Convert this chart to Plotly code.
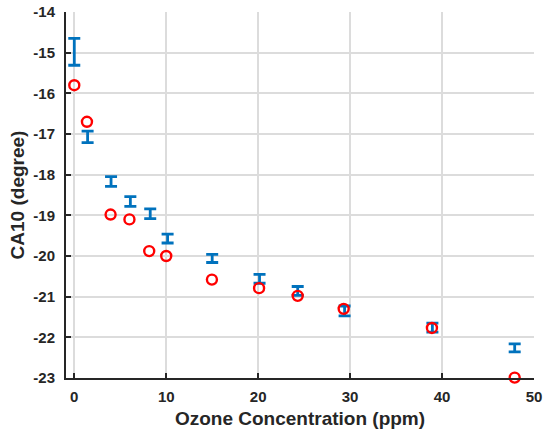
import plotly.graph_objects as go

# Error-bar series (blue)
bar_x = [0.0, 1.45, 4.0, 6.1, 8.26, 10.15, 15.0, 20.15, 24.3, 29.4, 38.95, 47.9]
bar_y = [-14.98, -17.07, -18.17, -18.66, -18.96, -19.57, -20.06, -20.56, -20.86, -21.35, -21.76, -22.26]
bar_err = [0.33, 0.14, 0.12, 0.12, 0.12, 0.11, 0.10, 0.11, 0.11, 0.12, 0.11, 0.10]

# Circle series (red)
pt_x = [0.0, 1.38, 3.95, 6.0, 8.15, 10.0, 14.97, 20.1, 24.3, 29.3, 38.9, 47.9]
pt_y = [-15.80, -16.70, -18.98, -19.10, -19.88, -20.00, -20.58, -20.79, -20.98, -21.30, -21.77, -22.99]

x_ticks = [0, 10, 20, 30, 40, 50]
y_ticks = [-23, -22, -21, -20, -19, -18, -17, -16, -15, -14]

fig = go.Figure()
fig.add_trace(go.Scatter(
    x=bar_x, y=bar_y, mode="markers",
    marker=dict(size=0.1, color="#0072BD", opacity=0),
    error_y=dict(type="data", array=bar_err, visible=True,
                 color="#0072BD", thickness=2.8, width=6),
    showlegend=False, hoverinfo="skip"))
fig.add_trace(go.Scatter(
    x=pt_x, y=pt_y, mode="markers",
    marker=dict(symbol="circle-open", size=10, color="#FF0000",
                line=dict(width=2.4, color="#FF0000")),
    showlegend=False, cliponaxis=False))

font_family = "Liberation Sans, Arial, sans-serif"
fig.update_layout(
    width=543, height=437,
    margin=dict(l=66, r=9, t=12, b=59),
    paper_bgcolor="white", plot_bgcolor="white",
    font=dict(family=font_family, color="#262626"),
)
fig.update_xaxes(
    range=[-0.9, 50], tickvals=x_ticks, ticktext=["<b>%d</b>" % v for v in x_ticks],
    showgrid=True, gridcolor="#DCDCDC", gridwidth=1.5,
    showline=True, linecolor="#262626", linewidth=2,
    ticks="inside", ticklen=5, tickwidth=2, tickcolor="#262626",
    tickfont=dict(size=15, family=font_family, color="#262626"),
    ticklabelstandoff=4,
    title=dict(text="<b>Ozone Concentration (ppm)</b>", font=dict(size=19, color="#262626"), standoff=8),
    zeroline=False, automargin=False,
)
fig.update_yaxes(
    range=[-23, -14], tickvals=y_ticks, ticktext=["<b>%d</b>" % v for v in y_ticks],
    showgrid=True, gridcolor="#DCDCDC", gridwidth=1.5,
    showline=True, linecolor="#262626", linewidth=2,
    ticks="inside", ticklen=5, tickwidth=2, tickcolor="#262626",
    tickfont=dict(size=15, family=font_family, color="#262626"),
    ticklabelstandoff=6,
    title=dict(text="<b>CA10 (degree)</b>", font=dict(size=19, color="#262626"), standoff=4),
    zeroline=False, automargin=False,
)
fig.write_html("out.html", config={"displayModeBar": False},
               post_script="document.body.style.margin='0';")
